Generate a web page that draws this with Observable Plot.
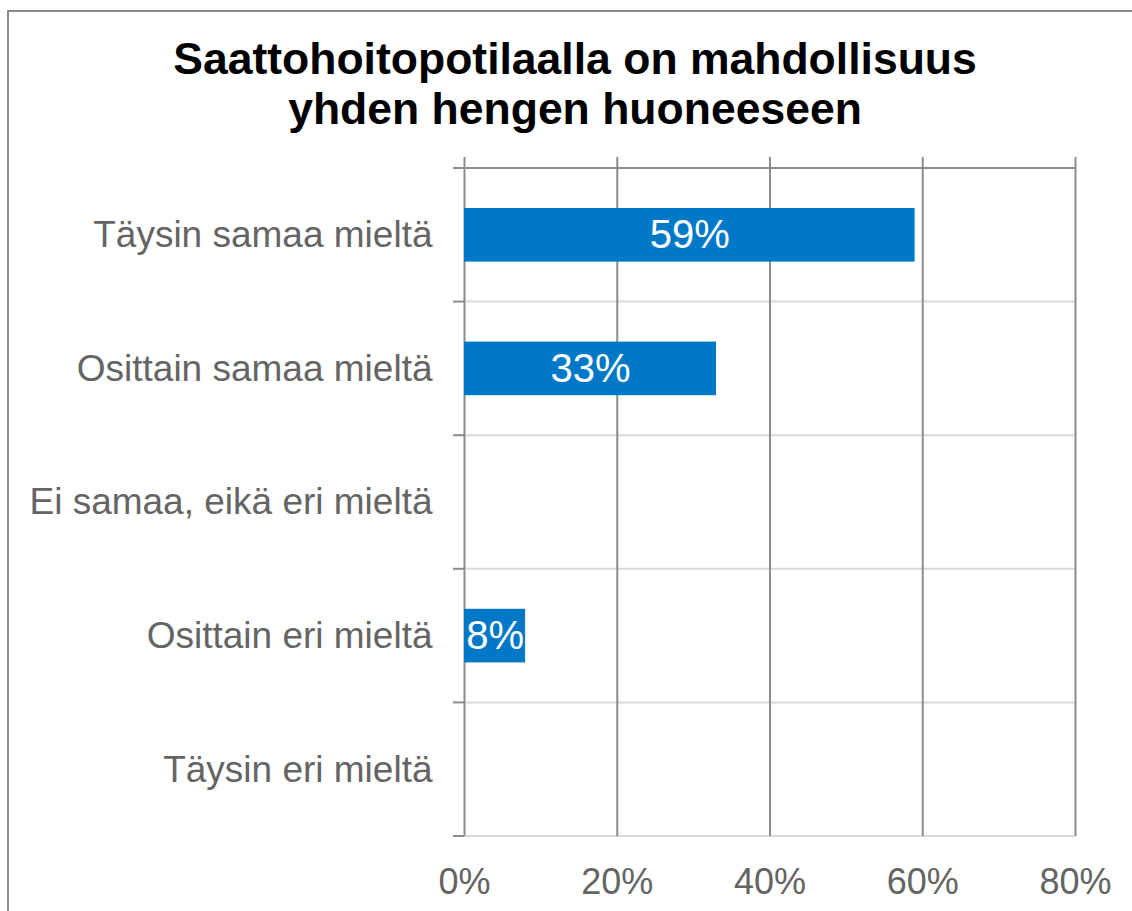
<!DOCTYPE html>
<html>
<head>
<meta charset="utf-8">
<script src="https://cdn.jsdelivr.net/npm/d3@7"></script>
<script src="https://cdn.jsdelivr.net/npm/@observablehq/plot@0.6"></script>
<style>
  html, body { margin: 0; padding: 0; background: #fff; overflow: hidden; }
  #page { position: relative; width: 1132px; height: 911px; overflow: hidden; font-family: "Liberation Sans", Arial, sans-serif; }
  #border { position: absolute; left: 7px; top: 10px; width: 1300px; height: 1100px; border: 2px solid #8c8c8c; box-sizing: border-box; }
  #title { position: absolute; left: 0; top: 34px; width: 1150px; text-align: center; font-weight: bold; font-size: 44.5px; line-height: 50px; color: #000; }
  #chart { position: absolute; left: 0; top: 0; }
</style>
</head>
<body>
<div id="page">
  <div id="border"></div>
  <div id="chart"></div>
  <div id="title">Saattohoitopotilaalla on mahdollisuus<br>yhden hengen huoneeseen</div>
</div>
<script>
const categories = ["Täysin samaa mieltä", "Osittain samaa mieltä", "Ei samaa, eikä eri mieltä", "Osittain eri mieltä", "Täysin eri mieltä"];
const values = [59, 33, 0, 8, 0];
const xTicks = [0, 20, 40, 60, 80];

const data = categories.map((c, i) => ({category: c, value: values[i]}));

const bandLines = (index, scales) => {
  const y = scales.y, x = scales.x;
  const step = y(categories[1]) - y(categories[0]);
  const edges = categories.map(c => y(c)).concat([y(categories[categories.length - 1]) + step]);
  const x0 = x(xTicks[0]), x1 = x(xTicks[xTicks.length - 1]);
  const g = d3.create("svg:g");
  g.selectAll("line.h").data(edges).join("line")
    .attr("x1", x0).attr("x2", x1).attr("y1", d => d).attr("y2", d => d)
    .attr("stroke", (d, i) => i === 0 ? "#8c8c8c" : "#d9d9d9").attr("stroke-width", 2);
  g.selectAll("line.t").data(edges).join("line")
    .attr("x1", x0 - 11).attr("x2", x0).attr("y1", d => d).attr("y2", d => d)
    .attr("stroke", "#8c8c8c").attr("stroke-width", 2);
  return g.node();
};

const chart = Plot.plot({
  width: 1132,
  height: 911,
  marginLeft: 464,
  marginRight: 57,
  marginTop: 168,
  marginBottom: 75,
  x: {domain: [0, 80], ticks: xTicks},
  y: {domain: categories, padding: 0, round: false},
  style: {fontFamily: "'Liberation Sans', Arial, sans-serif", background: "transparent", overflow: "visible"},
  marks: [
    bandLines,
    Plot.ruleX(xTicks, {stroke: "#8c8c8c", strokeWidth: 2, insetTop: -11}),
    Plot.barX(data.filter(d => d.value > 0), {y: "category", x: "value", fill: "#0078C8", insetTop: 40, insetBottom: 40}),
    Plot.text(data.filter(d => d.value > 0), {y: "category", x: d => d.value / 2, text: d => d.value + "%", fill: "white", fontSize: 40}),
    Plot.axisY({tickSize: 0, tickPadding: 32, fontSize: 37, color: "#646464", label: null}),
    Plot.axisX({ticks: xTicks, tickSize: 0, tickPadding: 32, fontSize: 36, color: "#646464", tickFormat: d => d + "%", label: null})
  ]
});
document.getElementById("chart").appendChild(chart);
</script>
</body>
</html>
